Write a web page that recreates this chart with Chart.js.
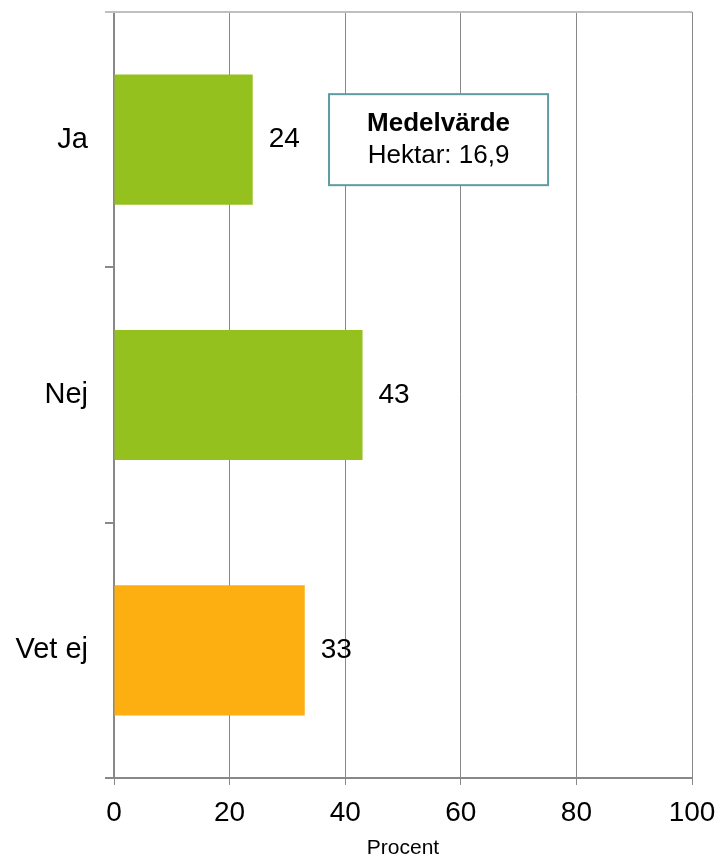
<!DOCTYPE html>
<html>
<head>
<meta charset="utf-8">
<script src="https://cdn.jsdelivr.net/npm/chart.js@4.4.1/dist/chart.umd.min.js"></script>
<style>
  html, body { margin: 0; padding: 0; background: #fff; }
  #wrap { width: 720px; height: 856px; }
</style>
</head>
<body>
<div id="wrap"><canvas id="answerChart" width="720" height="856"></canvas></div>
<script>
const categories = ['Ja', 'Nej', 'Vet ej'];
const percentValues = [24, 43, 33];
const barColors = ['#95C11F', '#95C11F', '#FDAE10'];
const xTicks = [0, 20, 40, 60, 80, 100];
const noteTitle = 'Medelvärde';
const noteText = 'Hektar: 16,9';

const FONT = '"Liberation Sans", Arial, sans-serif';

const extras = {
  id: 'extras',
  afterDatasetsDraw(chart) {
    const ctx = chart.ctx;
    const x = chart.scales.x;
    const y = chart.scales.y;
    const area = chart.chartArea;

    // top border line
    ctx.save();
    ctx.strokeStyle = '#BFBFBF';
    ctx.lineWidth = 2;
    ctx.beginPath();
    ctx.moveTo(area.left - 9, area.top);
    ctx.lineTo(area.right, area.top);
    ctx.stroke();

    // value labels
    ctx.fillStyle = '#000';
    ctx.font = '28px ' + FONT;
    ctx.textBaseline = 'middle';
    ctx.textAlign = 'left';
    const meta = chart.getDatasetMeta(0);
    meta.data.forEach((bar, i) => {
      ctx.fillText(String(percentValues[i]), bar.x + 16, bar.y);
    });

    // annotation box
    const left = x.getPixelForValue(37.2);
    const right = x.getPixelForValue(75.1);
    const cy = y.getPixelForValue(0);
    const h = 91;
    ctx.fillStyle = '#fff';
    ctx.fillRect(left, cy - h / 2, right - left, h);
    ctx.strokeStyle = '#5E9CA3';
    ctx.lineWidth = 2;
    ctx.strokeRect(left, cy - h / 2, right - left, h);
    ctx.fillStyle = '#000';
    ctx.textAlign = 'center';
    ctx.font = 'bold 26px ' + FONT;
    ctx.fillText(noteTitle, (left + right) / 2, cy - 16);
    ctx.font = '26px ' + FONT;
    ctx.fillText(noteText, (left + right) / 2, cy + 16);
    ctx.restore();
  }
};

new Chart(document.getElementById('answerChart'), {
  type: 'bar',
  data: {
    labels: categories,
    datasets: [{
      data: percentValues,
      backgroundColor: barColors,
      borderWidth: 0,
      categoryPercentage: 1,
      barPercentage: 0.51
    }]
  },
  options: {
    indexAxis: 'y',
    responsive: false,
    animation: false,
    layout: { padding: { top: 12, right: 28, left: 0, bottom: 0 } },
    plugins: { legend: { display: false }, tooltip: { enabled: false } },
    scales: {
      x: {
        min: 0,
        max: 100,
        afterBuildTicks(scale) { scale.ticks = xTicks.map(v => ({ value: v })); },
        afterFit(scale) { scale.height = 78; scale.paddingLeft = 0; scale.paddingRight = 0; },
        ticks: { color: '#000', font: { family: FONT, size: 28 }, padding: 11, maxRotation: 0 },
        grid: { color: '#888888', lineWidth: 1, tickLength: 7 },
        border: { color: '#888888', width: 2 },
        title: { display: true, text: 'Procent', color: '#000', font: { family: FONT, size: 21 }, padding: { top: 0, bottom: -5 } }
      },
      y: {
        afterFit(scale) { scale.width = 114; scale.paddingTop = 0; scale.paddingBottom = 0; },
        ticks: { color: '#000', font: { family: FONT, size: 29 }, padding: 17 },
        grid: { drawOnChartArea: false, color: '#888888', tickLength: 9, lineWidth: 2 },
        border: { color: '#888888', width: 2 }
      }
    }
  },
  plugins: [extras]
});
</script>
</body>
</html>
